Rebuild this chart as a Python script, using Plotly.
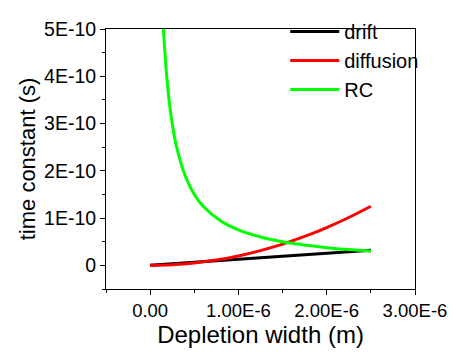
import plotly.graph_objects as go

# Depletion width (m)
drift_x = [0.0, 0.5e-6, 1.0e-6, 1.5e-6, 2.0e-6, 2.5e-6]
drift_y = [0.0, 0.064e-10, 0.128e-10, 0.192e-10, 0.256e-10, 0.32e-10]

diff_x = [0.0, 0.25e-6, 0.5e-6, 0.75e-6, 1.0e-6, 1.25e-6, 1.5e-6, 1.75e-6, 2.0e-6, 2.25e-6, 2.5e-6]
diff_y = [0.0, 0.0125e-10, 0.05e-10, 0.1125e-10, 0.2e-10, 0.3125e-10, 0.45e-10,
          0.6125e-10, 0.8e-10, 1.0125e-10, 1.25e-10]

rc_x = [0.13e-6, 0.15e-6, 0.2e-6, 0.25e-6, 0.3e-6, 0.4e-6, 0.5e-6, 0.6e-6, 0.8e-6,
        1.0e-6, 1.25e-6, 1.5e-6, 1.75e-6, 2.0e-6, 2.25e-6, 2.5e-6]
rc_y = [5.77e-10, 5.0e-10, 3.75e-10, 3.0e-10, 2.5e-10, 1.88e-10, 1.5e-10, 1.25e-10, 0.94e-10,
        0.75e-10, 0.6e-10, 0.5e-10, 0.43e-10, 0.375e-10, 0.333e-10, 0.30e-10]

x_tickvals = [0.0, 1.0e-6, 2.0e-6, 3.0e-6]
x_ticktext = ["0.00", "1.00E-6", "2.00E-6", "3.00E-6"]
y_tickvals = [0.0, 1e-10, 2e-10, 3e-10, 4e-10, 5e-10]
y_ticktext = ["0", "1E-10", "2E-10", "3E-10", "4E-10", "5E-10"]

FONT = "Liberation Sans, Arial, sans-serif"

fig = go.Figure()
fig.add_trace(go.Scatter(x=drift_x, y=drift_y, mode="lines", name="drift",
                         line=dict(color="#000000", width=3, shape="spline")))
fig.add_trace(go.Scatter(x=diff_x, y=diff_y, mode="lines", name="diffusion",
                         line=dict(color="#ff0000", width=3, shape="spline")))
fig.add_trace(go.Scatter(x=rc_x, y=rc_y, mode="lines", name="RC",
                         line=dict(color="#00ff00", width=3, shape="spline")))

fig.update_layout(
    width=459, height=354,
    margin=dict(l=106, r=38, t=14, b=62),
    paper_bgcolor="white", plot_bgcolor="white",
    font=dict(family=FONT, color="black"),
    showlegend=True,
    legend=dict(x=0.58, y=1.065, xanchor="left", yanchor="top",
                bgcolor="rgba(0,0,0,0)", font=dict(size=20, family=FONT),
                itemwidth=49, tracegroupgap=0),
    xaxis=dict(range=[-0.5e-6, 3.0e-6], tickvals=x_tickvals, ticktext=x_ticktext,
               ticks="outside", ticklen=5, tickwidth=1, tickcolor="black",
               showline=True, linecolor="black", linewidth=1, mirror=True,
               showgrid=False, zeroline=False,
               tickfont=dict(size=18.5, family=FONT),
               title=dict(text="Depletion width (m)", font=dict(size=24, family=FONT), standoff=4),
               minor=dict(tickvals=[-0.5e-6, 0.5e-6, 1.5e-6, 2.5e-6], ticks="outside",
                          ticklen=3, tickcolor="black")),
    yaxis=dict(range=[-0.5e-10, 5.0e-10], tickvals=y_tickvals, ticktext=y_ticktext,
               ticks="outside", ticklen=5, tickwidth=1, tickcolor="black",
               showline=True, linecolor="black", linewidth=1, mirror=True,
               showgrid=False, zeroline=False,
               tickfont=dict(size=19.5, family=FONT),
               title=dict(text="time constant (s)", font=dict(size=22, family=FONT), standoff=2),
               minor=dict(tickvals=[-0.5e-10, 0.5e-10, 1.5e-10, 2.5e-10, 3.5e-10, 4.5e-10],
                          ticks="outside", ticklen=3, tickcolor="black")),
)

fig.write_html("out.html")
